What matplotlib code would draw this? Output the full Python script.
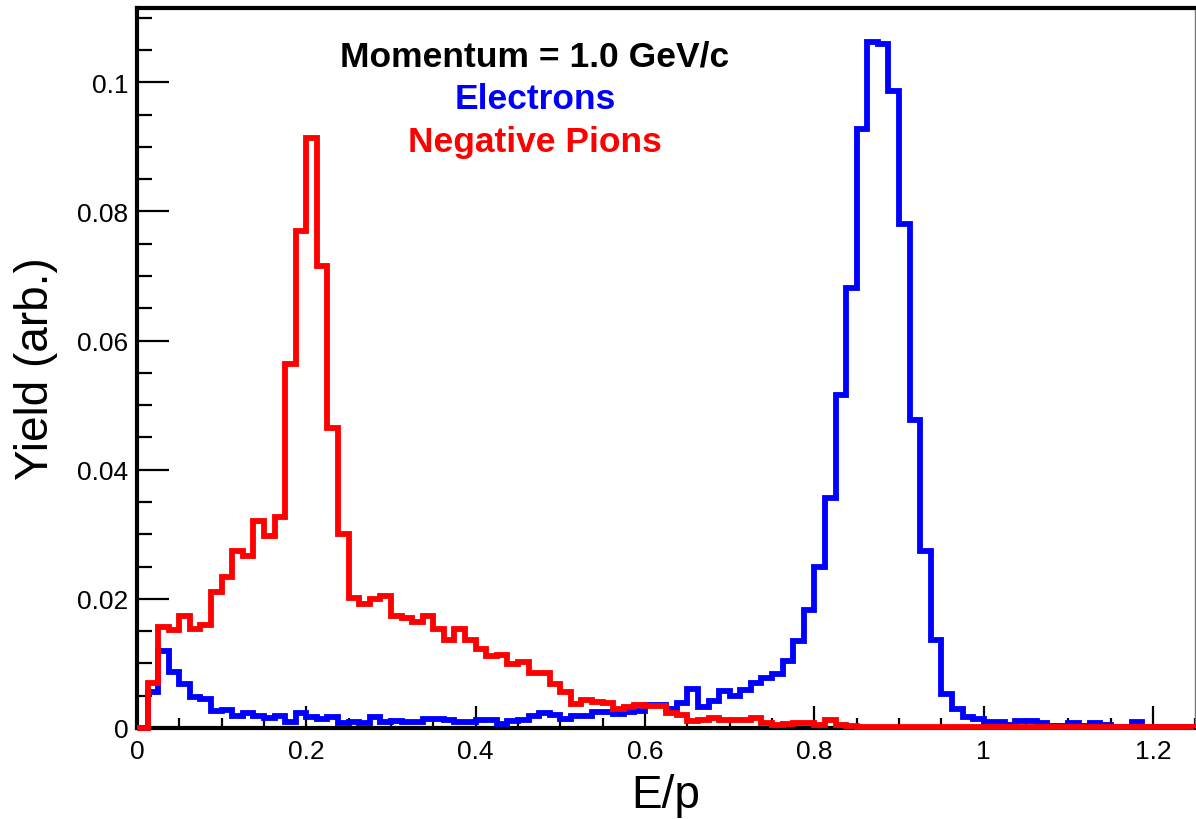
import matplotlib
matplotlib.use("Agg")
import matplotlib.pyplot as plt
import numpy as np
from matplotlib.ticker import MultipleLocator, FormatStrFormatter

# E/p histograms, 100 bins from 0 to 1.25
bin_edges = np.linspace(0.0, 1.25, 101)

electrons = [
    0.0, 0.0055, 0.0119, 0.0087, 0.0068, 0.0048, 0.0045, 0.0026, 0.0028, 0.0019,
    0.0023, 0.0018, 0.0015, 0.0018, 0.0009, 0.0023, 0.0017, 0.0014, 0.0017, 0.0007,
    0.0009, 0.0008, 0.0017, 0.0009, 0.0011, 0.0010, 0.0009, 0.0014, 0.0014, 0.0013,
    0.0010, 0.0010, 0.0013, 0.0013, 0.0006, 0.0011, 0.0013, 0.0019, 0.0023, 0.0020,
    0.0014, 0.0018, 0.0018, 0.0024, 0.0024, 0.0022, 0.0024, 0.0027, 0.0035, 0.0035,
    0.0029, 0.0039, 0.0060, 0.0032, 0.0042, 0.0058, 0.0049, 0.0059, 0.0070, 0.0077,
    0.0083, 0.0104, 0.0134, 0.0182, 0.0249, 0.0356, 0.0515, 0.0681, 0.0928, 0.1062,
    0.1059, 0.0987, 0.0781, 0.0477, 0.0274, 0.0136, 0.0053, 0.0029, 0.0017, 0.0014,
    0.0009, 0.0010, 0.0004, 0.0011, 0.0011, 0.0008, 0.0003, 0.0003, 0.0007, 0.0003,
    0.0007, 0.0004, 0.0002, 0.0002, 0.0010, 0.0002, 0.0001, 0.0001, 0.0001, 0.0001,
]

pions = [
    0.0, 0.0069, 0.0156, 0.0151, 0.0173, 0.0154, 0.0160, 0.0211, 0.0234, 0.0274,
    0.0266, 0.0321, 0.0298, 0.0326, 0.0563, 0.0769, 0.0914, 0.0715, 0.0464, 0.0301,
    0.0201, 0.0192, 0.0199, 0.0205, 0.0174, 0.0171, 0.0164, 0.0173, 0.0153, 0.0136,
    0.0153, 0.0137, 0.0122, 0.0111, 0.0113, 0.0099, 0.0102, 0.0085, 0.0085, 0.0068,
    0.0055, 0.0037, 0.0044, 0.0041, 0.0039, 0.0029, 0.0032, 0.0035, 0.0034, 0.0034,
    0.0023, 0.0020, 0.0011, 0.0013, 0.0015, 0.0013, 0.0012, 0.0013, 0.0015, 0.0008,
    0.0005, 0.0006, 0.0008, 0.0008, 0.0005, 0.0012, 0.0005, 0.0003, 0.0002, 0.0002,
    0.0002, 0.0002, 0.0001, 0.0002, 0.0002, 0.0002, 0.0001, 0.0002, 0.0002, 0.0002,
    0.0002, 0.0001, 0.0002, 0.0002, 0.0002, 0.0001, 0.0002, 0.0002, 0.0002, 0.0002,
    0.0001, 0.0002, 0.0002, 0.0002, 0.0002, 0.0001, 0.0002, 0.0002, 0.0002, 0.0002,
]

x_max = 1.25
y_max = 0.1115

plt.rcParams["font.family"] = ["Liberation Sans", "DejaVu Sans"]

fig = plt.figure(figsize=(11.96, 8.20), dpi=100)
ax = fig.add_axes([0.1145, 0.111, 0.885, 0.878])

ax.stairs(electrons, bin_edges, color="#0000ff", linewidth=4.2, zorder=3, clip_on=False)
ax.stairs(pions, bin_edges, color="#ff0000", linewidth=4.2, zorder=4, clip_on=False)

ax.set_xlim(0, x_max)
ax.set_ylim(0, y_max)

ax.xaxis.set_major_locator(MultipleLocator(0.2))
ax.xaxis.set_minor_locator(MultipleLocator(0.05))
ax.yaxis.set_major_locator(MultipleLocator(0.02))
ax.yaxis.set_minor_locator(MultipleLocator(0.005))
ax.xaxis.set_major_formatter(FormatStrFormatter("%g"))
ax.yaxis.set_major_formatter(FormatStrFormatter("%g"))

ax.tick_params(axis="both", which="both", direction="in", width=1.6,
               top=False, right=False, labelsize=19, colors="black")
ax.tick_params(axis="x", which="major", length=16, pad=8)
ax.tick_params(axis="x", which="minor", length=7)
ax.tick_params(axis="y", which="major", length=23, pad=6)
ax.tick_params(axis="y", which="minor", length=11)

for side in ("left", "bottom", "top"):
    ax.spines[side].set_linewidth(3.0)
    ax.spines[side].set_color("black")
ax.spines["right"].set_linewidth(1.0)
ax.spines["right"].set_color("#777777")

ax.set_xlabel("E/p", fontsize=33, labelpad=7)
ax.set_ylabel("Yield (arb.)", fontsize=33, labelpad=14)

ax.text(0.376, 0.920, "Momentum = 1.0 GeV/c", transform=ax.transAxes,
        ha="center", va="baseline", fontsize=25.5, fontweight="bold", color="black")
ax.text(0.376, 0.861, "Electrons", transform=ax.transAxes,
        ha="center", va="baseline", fontsize=25.5, fontweight="bold", color="#0000ff")
ax.text(0.376, 0.801, "Negative Pions", transform=ax.transAxes,
        ha="center", va="baseline", fontsize=25.5, fontweight="bold", color="#ff0000")

fig.savefig("out.png", dpi=100)
plt.close(fig)
